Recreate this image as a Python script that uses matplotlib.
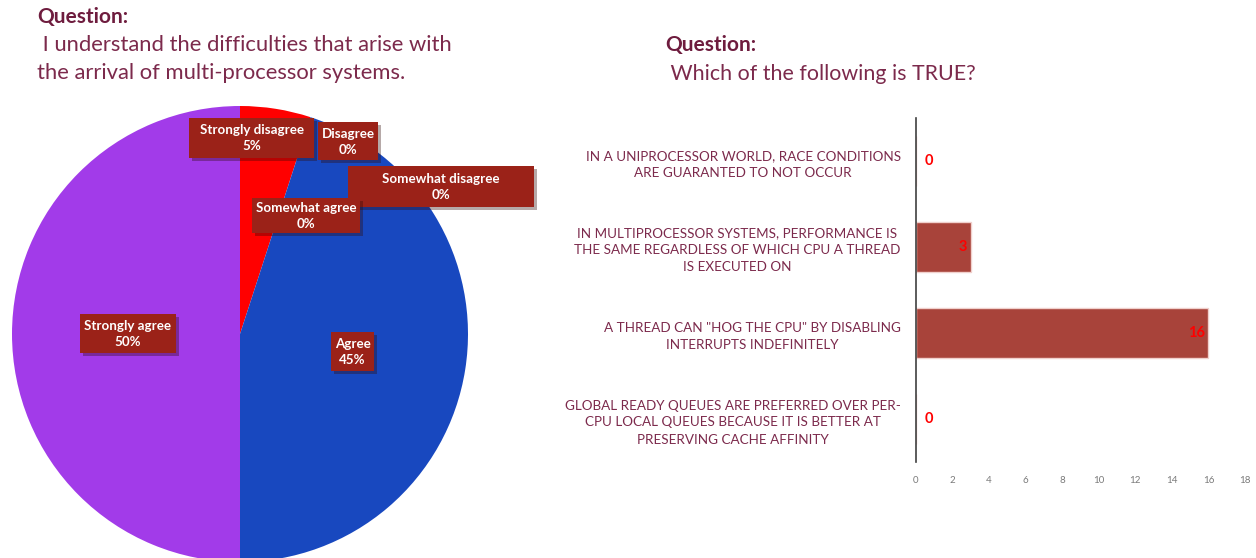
import matplotlib
matplotlib.use("Agg")
import matplotlib.pyplot as plt
import matplotlib.patheffects as pe
from matplotlib.patches import Rectangle

plt.rcParams['font.family'] = ['Lato', 'DejaVu Sans']

# pie data
pie_labels = ["Strongly disagree", "Disagree", "Somewhat disagree", "Somewhat agree", "Agree", "Strongly agree"]
pie_values = [5, 0, 0, 0, 45, 50]
pie_colors = ["#ff0000", "#e0e0e0", "#e0e0e0", "#e0e0e0", "#1848bf", "#a23be9"]

# bar data
bar_labels = [
    "IN A UNIPROCESSOR WORLD, RACE CONDITIONS\nARE GUARANTED TO NOT OCCUR",
    "IN MULTIPROCESSOR SYSTEMS, PERFORMANCE IS\nTHE SAME REGARDLESS OF WHICH CPU A THREAD\nIS EXECUTED ON",
    "A THREAD CAN \"HOG THE CPU\" BY DISABLING\nINTERRUPTS INDEFINITELY",
    "GLOBAL READY QUEUES ARE PREFERRED OVER PER-\nCPU LOCAL QUEUES BECAUSE IT IS BETTER AT\nPRESERVING CACHE AFFINITY",
]
bar_values = [0, 3, 16, 0]
x_ticks = [0, 2, 4, 6, 8, 10, 12, 14, 16, 18]

W, H = 1256, 558
title_col = "#6e1c3e"
text_col = "#7c2a4c"
box_col = "#9b2218"

fig = plt.figure(figsize=(W / 100, H / 100), dpi=100)

# ---- pie (axes in pixel units) ----
ax = fig.add_axes([0, 0, 1, 1])
ax.pie(pie_values, colors=pie_colors, startangle=90, counterclock=False,
       center=(240, H - 334), radius=228, frame=True,
       wedgeprops=dict(linewidth=0))
ax.set_xlim(0, W)
ax.set_ylim(0, H)
ax.axis('off')

# label boxes (x0, y0, x1, y1 in pixels from top-left), same order as pie_labels
label_boxes = [(189, 118, 314, 158), (318, 122, 378, 160), (348, 166, 534, 207),
               (252, 198, 360, 233), (331, 332, 374, 371), (80, 314, 176, 353)]
for i, (name, val, (x0, y0, x1, y1)) in enumerate(zip(pie_labels, pie_values, label_boxes)):
    r = Rectangle((x0, H - y1), x1 - x0, y1 - y0, fc=box_col, ec='none', zorder=5 + 2 * i)
    r.set_path_effects([pe.withSimplePatchShadow(offset=(2, -2), alpha=0.35), pe.Normal()])
    ax.add_patch(r)
    ax.text((x0 + x1) / 2, H - (y0 + y1) / 2 - 0.5, f"{name}\n{val}%", ha='center', va='center',
            color='white', fontsize=9.6, fontweight='bold', linespacing=1.4, zorder=6 + 2 * i)

fig.text(37 / W, 1 - 17 / H, "Question:", color=title_col, fontsize=15,
         fontweight='bold', va='center', ha='left')
fig.text(37 / W, 1 - 59 / H, " I understand the difficulties that arise with\nthe arrival of multi-processor systems.",
         color=text_col, fontsize=15.8, va='center', ha='left', linespacing=1.5)

fig.text(665 / W, 1 - 45 / H, "Question:", color=title_col, fontsize=15,
         fontweight='bold', va='center', ha='left')
fig.text(665 / W, 1 - 74 / H, " Which of the following is TRUE?", color=text_col,
         fontsize=15.4, va='center', ha='left')

# ---- bar chart ----
bx = fig.add_axes([916 / W, (H - 462) / H, (1245 - 916) / W, (462 - 118) / H])
ypos = list(range(len(bar_values)))
bx.barh(ypos, bar_values, height=0.59, color="#a8433a", edgecolor="#f0d0cc", linewidth=1)
bx.set_ylim(3.5, -0.5)
bx.set_xlim(0, 18)
bx.set_xticks(x_ticks)
bx.set_yticks(ypos)
bx.set_yticklabels(bar_labels, fontsize=9.7, color=text_col, multialignment='center',
                   linespacing=1.5)
bx.tick_params(axis='y', length=0, pad=11)
bx.tick_params(axis='x', length=0, labelsize=7, labelcolor="#7a7a7a", pad=10)
for s in ['top', 'right', 'bottom']:
    bx.spines[s].set_visible(False)
bx.spines['left'].set_color("#404040")
bx.spines['left'].set_linewidth(1.2)
for y, v in zip(ypos, bar_values):
    if v == 0:
        bx.text(0.45, y, str(v), color='#ff0000', fontsize=10.5, fontweight='bold', va='center', ha='left')
    else:
        bx.text(v - 0.2, y, str(v), color='#ff0000', fontsize=10.5, fontweight='bold', va='center', ha='right')

fig.savefig("out.png", dpi=100)
